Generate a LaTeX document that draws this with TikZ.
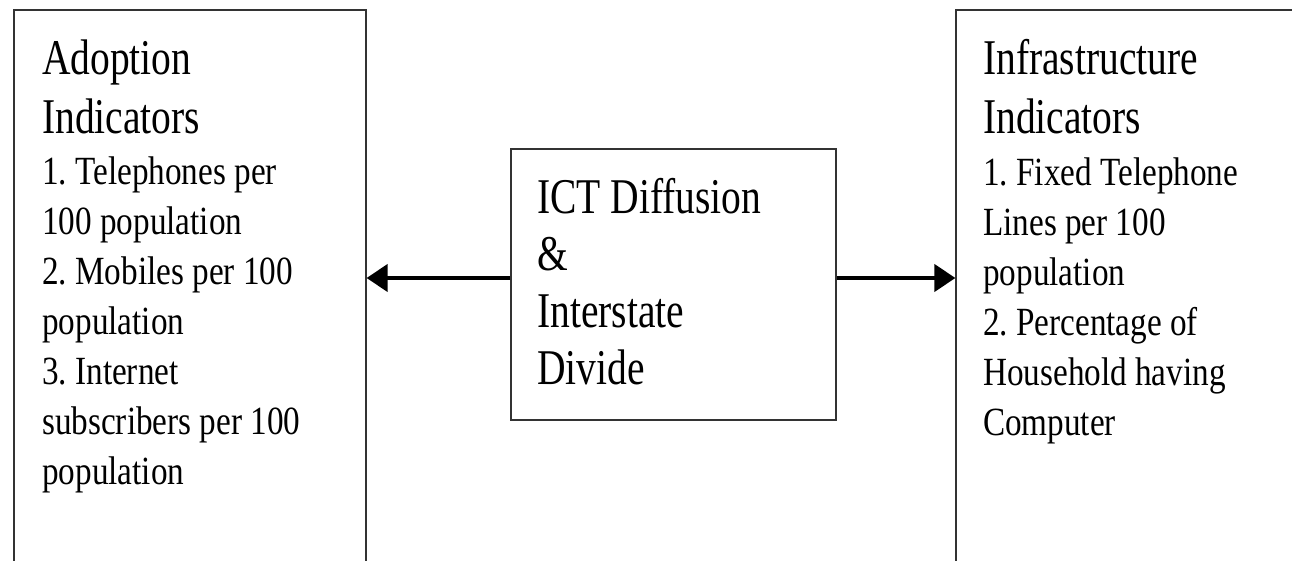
\documentclass[tikz,border=0pt]{standalone}
\usepackage{fontspec}
\setmainfont{Liberation Serif}
\newfontfamily\bigf[FakeStretch=0.79]{Liberation Serif}
\newfontfamily\smallf[FakeStretch=0.83]{Liberation Serif}
\usetikzlibrary{arrows.meta}
\frenchspacing
\begin{document}
\begin{tikzpicture}[x=1pt,y=-1pt,
  box/.style={draw=black!80, line width=1.2pt, rectangle, inner sep=0pt},
  title/.style={anchor=north west, inner sep=0pt, align=left, font=\bigf\fontsize{50}{59}\selectfont},
  list/.style={anchor=north west, inner sep=0pt, align=left, font=\smallf\fontsize{40}{50}\selectfont},
  arr/.style={line width=4pt, -{Triangle[length=21pt,width=27pt]}}]
\useasboundingbox (0,0) rectangle (1292,561);
\clip (0,0) rectangle (1292,561);
\node[box, minimum width=352pt, minimum height=700pt] (adopt) at (190,360) {};
\node[box, minimum width=500pt, minimum height=700pt] (infra) at (1206,360) {};
\node[box, minimum width=325pt, minimum height=271pt] (ict) at (673.5,284.5) {};
\node[title] (adoptT) at (42,34) {\rule{0pt}{40pt}Adoption\\Indicators};
\node[list] (adoptL) at (42,149) {\rule{0pt}{35pt}1. Telephones per\\100 population\\2. Mobiles per 100\\population\\3. Internet\\subscribers per 100\\population};
\node[title] (infraT) at (983,34) {\rule{0pt}{40pt}Infrastructure\\Indicators};
\node[list] (infraL) at (983,150) {\rule{0pt}{35pt}1. Fixed Telephone\\Lines per 100\\population\\2. Percentage of\\Household having\\Computer};
\node[title, font=\bigf\fontsize{50}{57}\selectfont] (ictT) at (537,173) {\rule{0pt}{40pt}ICT Diffusion\\\&\\Interstate\\Divide};
\coordinate (ay) at (0,278);
\draw[arr] (ict.west |- ay) -- (adopt.east |- ay);
\draw[arr] (ict.east |- ay) -- (infra.west |- ay);
\end{tikzpicture}
\end{document}
